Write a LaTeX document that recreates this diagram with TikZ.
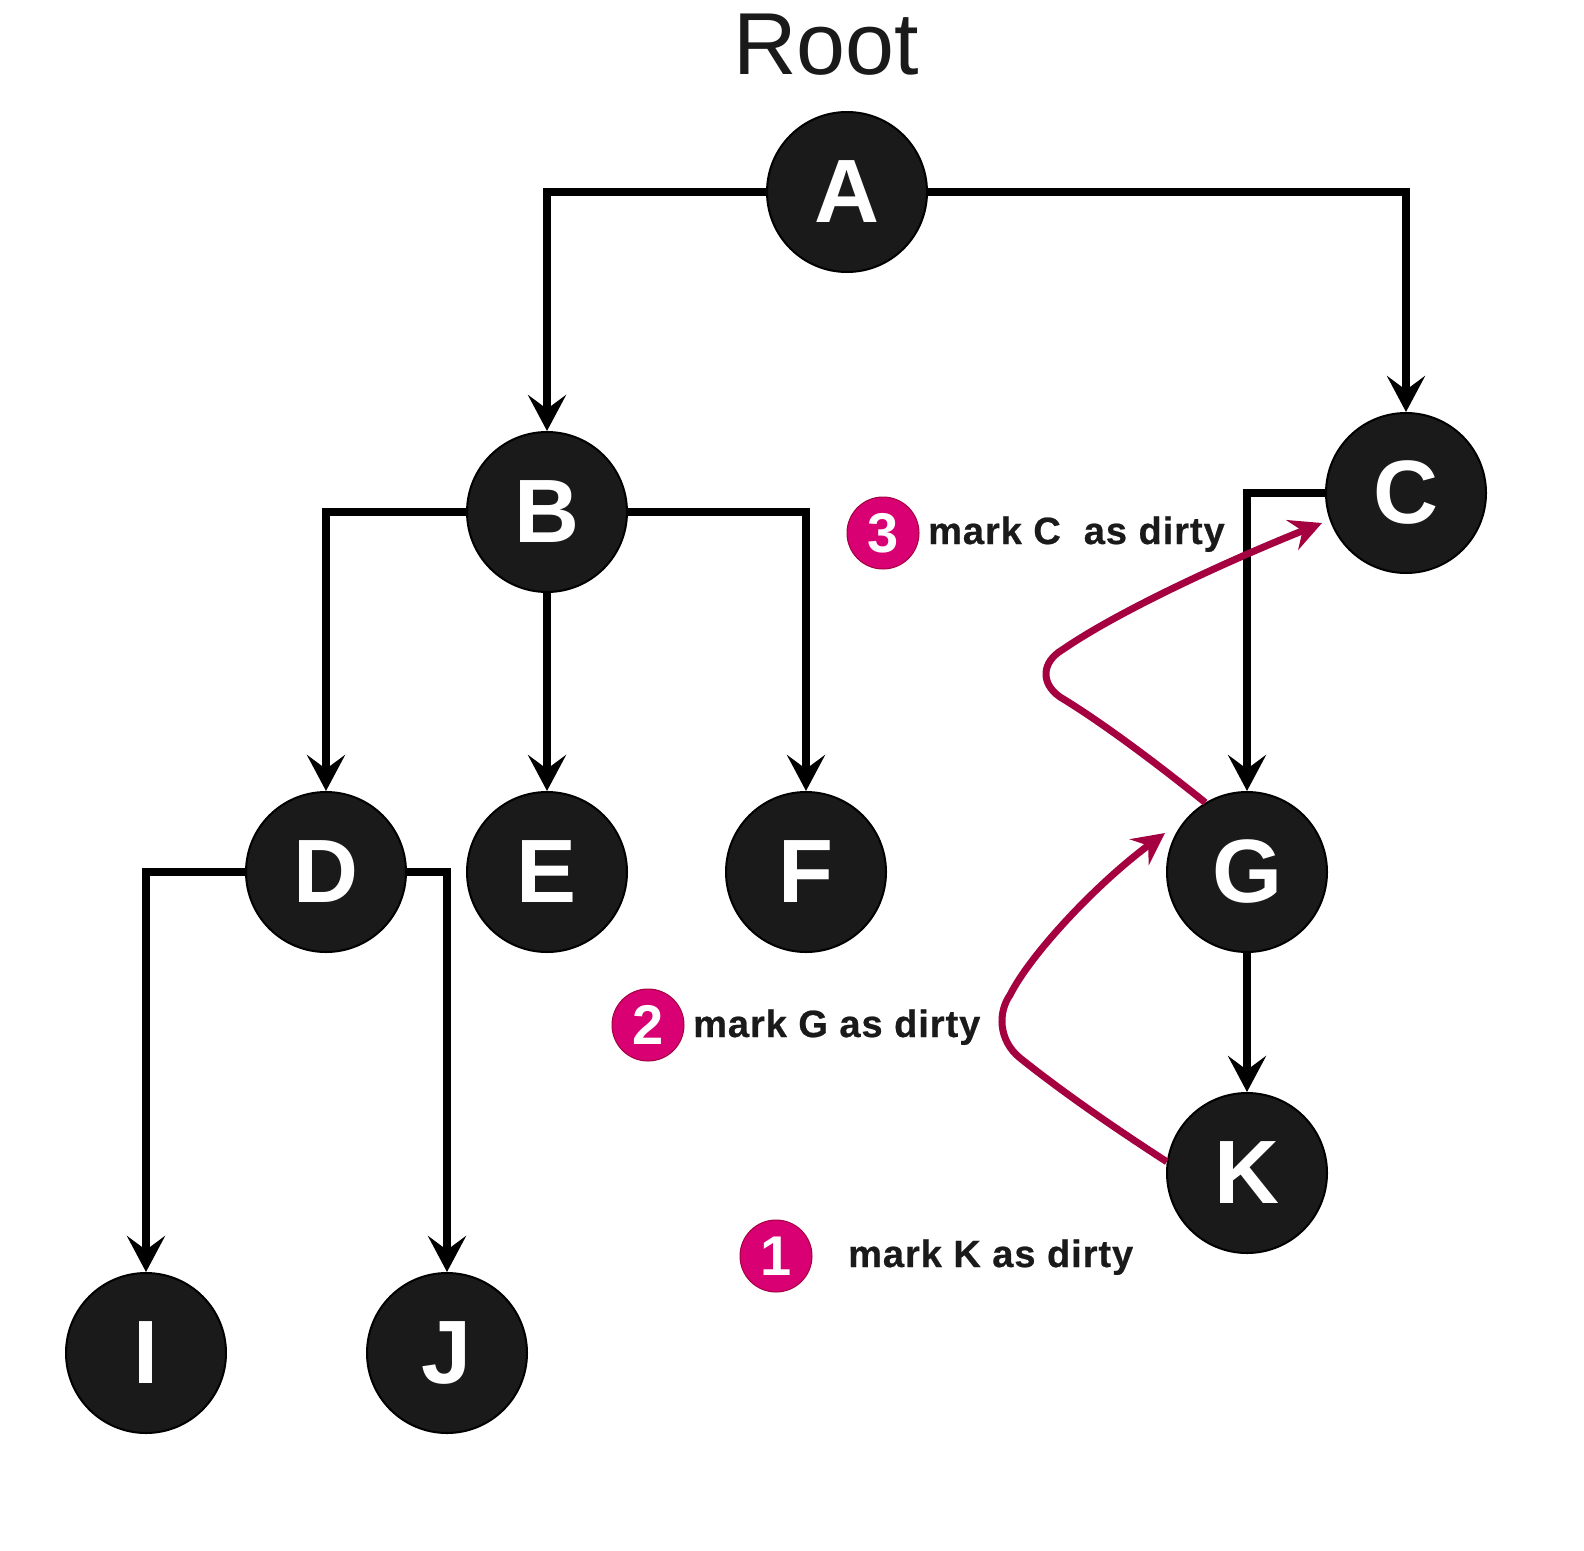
\documentclass[tikz,border=0pt]{standalone}
\usepackage{fontspec}
\setmainfont{Liberation Sans}
\usetikzlibrary{arrows.meta}
\definecolor{nodefill}{HTML}{1A1A1A}
\definecolor{dirty}{HTML}{A50040}
\definecolor{badgefill}{HTML}{D80073}
\begin{document}
\begin{tikzpicture}[x=1pt,y=-1pt,
  treenode/.style={circle, draw=black, line width=2pt, fill=nodefill, minimum size=160pt, inner sep=0pt, text=white, font=\fontsize{90}{90}\selectfont\bfseries},
  edge/.style={line width=8pt, -{Stealth[length=36pt,width=38pt,inset=14pt]}},
  dirtyarrow/.style={draw=dirty, line width=7pt, line join=round, -{Stealth[length=32pt,width=32pt,inset=11pt]}},
  badge/.style={circle, draw=dirty, line width=1pt, fill=badgefill, minimum size=72pt, inner sep=0pt, text=white, font=\fontsize{56}{56}\selectfont\bfseries},
  steplabel/.style={anchor=base west, inner sep=0pt, text=nodefill, font=\fontsize{38}{38}\selectfont\bfseries\addfontfeature{LetterSpace=2.5,FakeBold=0.6}}
]
\useasboundingbox (0,0) rectangle (1584,1550);
\fill[white] (0,0) rectangle (1584,1550);

\node[anchor=base west, inner sep=0pt, text=nodefill, font=\fontsize{88}{88}\selectfont] (root) at (733,74) {Root};

\node[treenode] (A) at (847,192) {A};
\node[treenode] (B) at (547,512) {B};
\node[treenode] (C) at (1406,493) {C};
\node[treenode] (D) at (326,872) {D};
\node[treenode] (E) at (547,872) {E};
\node[treenode] (F) at (806,872) {F};
\node[treenode] (G) at (1247,872) {G};
\node[treenode] (K) at (1247,1173) {K};
\node[treenode] (I) at (146,1353) {I};
\node[treenode] (J) at (447,1353) {J};

\draw[edge] (A.west) -| (B.north);
\draw[edge] (A.east) -| (C.north);
\draw[edge] (B.west) -| (D.north);
\draw[edge] (B.south) -- (E.north);
\draw[edge] (B.east) -| (F.north);
\draw[edge] (C.west) -| (G.north);
\draw[edge] (D.west) -| (I.north);
\draw[edge] (D.east) -| (J.north);
\draw[edge] (G.south) -- (K.north);

\coordinate (g2) at (1165,833);
\coordinate (c3) at (1322,523);
\draw[dirtyarrow] (K.172) .. controls (1110,1125) and (1060,1090) .. (1020,1058) .. controls (998,1040) and (998,1012) .. (1010,995) .. controls (1030,955) and (1095,885) .. (g2);
\draw[dirtyarrow] (G.121) .. controls (1140,750) and (1090,715) .. (1060,697) .. controls (1040,683) and (1042,662) .. (1062,650) .. controls (1120,610) and (1230,560) .. (c3);

\node[badge] (b3) at (883,533) {3};
\node[steplabel] (t3) at (928,544) {mark C\ \ as dirty};
\node[badge] (b2) at (648,1025) {2};
\node[steplabel] (t2) at (693,1037) {mark G as dirty};
\node[badge] (b1) at (776,1256) {1};
\node[steplabel] (t1) at (848,1267) {mark K as dirty};
\end{tikzpicture}
\end{document}
